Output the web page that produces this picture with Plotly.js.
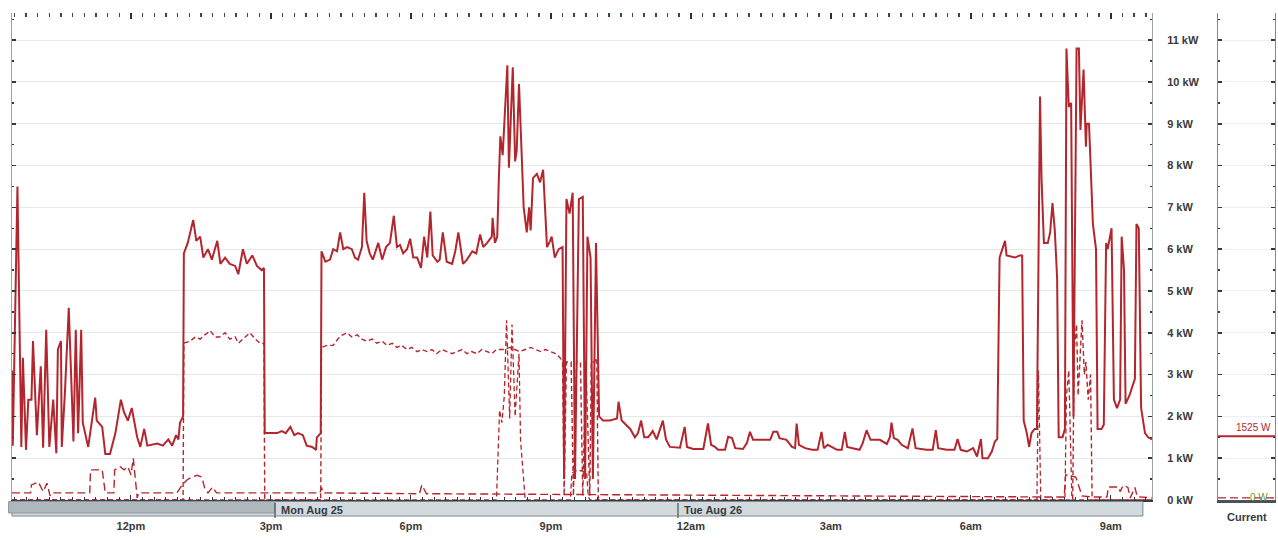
<!DOCTYPE html>
<html>
<head>
<meta charset="utf-8">
<script src="https://cdn.plot.ly/plotly-3.0.1.min.js"></script>
<style>html,body{margin:0;padding:0;background:#fff;}#chart{width:1278px;height:538px;}</style>
</head>
<body>
<div id="chart"></div>
<script>
// Time = minutes after 09:00 on Mon Aug 25; power in kW.
const tickMinutes = [180, 360, 540, 720, 900, 1080, 1260, 1440];
const tickLabels = ['12pm', '3pm', '6pm', '9pm', '12am', '3am', '6am', '9am'];
const dayLabels = ['Mon Aug 25', 'Tue Aug 26'];

// Whole-house total (solid line): [minute, kW]
const totalReadings = [
  [27,3.1],[28,1.3],[34,7.5],[39,1.27],[41,3.4],[45,1.2],[48,2.4],[52,2.4],[54,3.8],[59,1.55],
  [64,3.2],[67,1.25],[71,4.07],[75,1.27],[80,2.4],[84,1.12],[86,3.6],[90,3.8],[91,1.27],[95,2.55],
  [100,4.6],[106,1.4],[109,4.07],[112,1.6],[116,4.07],[118,1.85],[125,1.27],[134,2.45],[136,1.9],
  [143,1.75],[147,1.1],[153,1.1],[160,1.6],[167,2.4],[171,2.1],[176,1.9],[181,2.2],[188,1.5],
  [192,1.27],[197,1.7],[201,1.3],[214,1.35],[221,1.3],[228,1.45],[233,1.3],[238,1.55],[241,1.45],
  [243,1.85],[247,2.0],
  [248,5.9],[253,6.15],[260,6.7],[264,6.2],[269,6.3],[273,5.8],[279,6.0],[284,5.75],[291,6.2],
  [295,5.65],[301,5.8],[307,5.65],[314,5.6],[318,5.4],[324,6.0],[329,5.65],[336,5.85],[342,5.6],
  [348,5.5],[351,5.55],
  [352,1.6],[359,1.6],[368,1.6],[374,1.65],[379,1.6],[385,1.75],[390,1.55],[395,1.6],[401,1.55],
  [406,1.3],[413,1.27],[418,1.2],[419,1.5],[424,1.6],
  [425,5.95],[430,5.7],[436,5.75],[440,6.0],[445,5.95],[449,6.4],[453,6.0],[458,6.05],[464,6.0],
  [468,5.8],[472,5.75],[477,6.05],[480,7.35],[483,6.2],[487,5.9],[491,5.75],[498,6.15],[503,5.75],
  [508,6.05],[513,6.15],[518,6.8],[522,6.05],[526,6.1],[530,5.9],[535,6.0],[539,6.25],[543,5.8],
  [548,5.8],[553,5.55],[557,6.3],[561,5.8],[565,6.9],[568,5.85],[574,5.7],[577,5.75],[581,6.4],
  [586,5.7],[593,5.65],[597,5.95],[601,6.4],[607,5.65],[612,5.75],[619,5.95],[624,5.9],[629,6.35],
  [633,6.05],[638,6.15],[644,6.3],[645,6.75],[648,6.15],[651,6.3],[653,7.65],[655,8.7],[658,8.25],
  [664,10.4],[666,7.95],[671,10.35],[674,8.1],[676,8.35],[679,9.95],[683,7.7],[685,7.0],[689,6.4],
  [692,7.0],[694,6.45],[697,7.7],[702,7.8],[706,7.6],[710,7.9],[715,6.05],[719,6.2],[721,6.3],
  [725,5.8],[730,6.0],[735,6.05],[737,0.5],[740,7.2],[744,6.85],[748,7.35],[751,0.5],[756,7.2],
  [761,7.25],[764,0.5],[767,6.3],[771,5.8],[774,0.5],[778,6.15],[782,2.0],
  [787,1.9],[796,1.9],[805,1.95],[807,2.35],[811,1.9],[822,1.7],[828,1.5],[832,1.6],[836,1.9],
  [840,1.5],[845,1.5],[851,1.65],[856,1.45],[864,1.9],[868,1.45],[873,1.27],[886,1.25],[892,1.75],
  [895,1.27],[903,1.22],[916,1.22],[922,1.83],[926,1.32],[931,1.27],[935,1.2],[944,1.2],[948,1.51],
  [953,1.48],[957,1.24],[967,1.22],[972,1.36],[976,1.63],[980,1.44],[1002,1.44],[1006,1.63],
  [1011,1.63],[1014,1.48],[1023,1.44],[1030,1.27],[1034,1.24],[1036,1.83],[1039,1.32],[1047,1.24],
  [1056,1.2],[1063,1.2],[1068,1.63],[1071,1.24],[1076,1.32],[1088,1.2],[1094,1.2],[1098,1.63],
  [1101,1.27],[1108,1.24],[1117,1.2],[1121,1.36],[1126,1.67],[1131,1.44],[1143,1.44],[1152,1.34],
  [1156,1.51],[1158,1.85],[1161,1.48],[1166,1.44],[1171,1.32],[1179,1.24],[1185,1.71],[1189,1.24],
  [1203,1.2],[1211,1.2],[1215,1.67],[1218,1.24],[1229,1.2],[1239,1.2],[1243,1.46],[1247,1.2],
  [1255,1.16],[1263,1.24],[1268,1.04],[1273,1.46],[1275,1.0],[1282,1.0],[1287,1.16],[1291,1.4],
  [1294,1.46],
  [1297,5.8],[1301,6.0],[1304,6.2],[1306,5.85],[1317,5.8],[1323,5.85],[1326,5.85],[1328,1.9],
  [1332,1.6],[1335,1.27],[1338,1.6],[1342,1.7],[1345,1.7],[1349,9.65],[1351,7.65],[1354,6.15],
  [1359,6.15],[1362,6.4],[1365,7.1],[1368,6.45],[1371,5.3],[1373,1.5],[1378,1.5],[1381,1.7],
  [1383,10.8],[1386,9.4],[1389,9.5],[1392,2.0],[1396,10.8],[1399,10.8],[1401,8.85],[1404,9.95],
  [1405,10.3],[1408,8.45],[1409,9.0],[1412,9.0],[1414,8.05],[1417,6.6],[1421,6.0],[1423,1.7],
  [1428,1.7],[1431,1.8],[1434,6.15],[1436,6.0],[1439,6.3],[1441,6.5],[1444,2.4],[1448,2.2],
  [1452,2.4],[1454,6.3],[1457,5.5],[1459,2.3],[1464,2.5],[1468,2.7],[1471,2.9],[1473,6.6],
  [1476,6.5],[1479,2.2],[1484,1.6],[1488,1.5],[1493,1.45]
];

// Large circuit (short dashes, ~4 kW plateaus)
const circuitAReadings = [
  [27,0],[247,0],[248,3.75],[256,3.8],[263,3.9],[269,3.85],[275,3.95],[282,4.05],[288,3.9],[294,3.9],
  [301,4.0],[307,3.85],[314,3.9],[318,3.75],[324,3.85],[333,4.0],[340,3.85],[346,3.75],[351,3.75],
  [352,0],[424,0],[425,3.65],[432,3.7],[440,3.7],[446,3.85],[452,3.95],[458,4.0],[464,3.9],[471,3.95],
  [477,3.85],[483,3.8],[490,3.85],[496,3.75],[503,3.8],[509,3.7],[516,3.75],[522,3.65],[528,3.7],
  [535,3.6],[541,3.65],[548,3.55],[554,3.6],[561,3.55],[567,3.6],[573,3.5],[580,3.6],[586,3.55],
  [593,3.5],[599,3.55],[606,3.6],[612,3.5],[618,3.55],[625,3.5],[631,3.6],[638,3.55],[644,3.5],
  [650,3.6],[660,3.6],[667,3.65],[673,3.6],[680,3.55],[687,3.6],[694,3.65],[700,3.6],[707,3.55],
  [713,3.6],[719,3.55],[726,3.5],[732,3.4],[735,3.3],[737,0.1],[740,3.3],[746,3.3],[749,0.1],
  [753,3.3],[758,3.3],[761,0.1],[765,3.3],[770,0.1],[772,3.3],[776,3.3],[779,3.4],[781,0],
  [1391,0],[1393,3.6],[1396,4.2],[1398,2.5],[1401,3.8],[1403,4.3],[1406,3.0],[1408,3.3],[1411,2.4],
  [1414,3.0],[1416,0],[1493,0]
];

// Intermittent circuit (medium dashes, short spikes)
const circuitBReadings = [
  [27,0],[650,0],[654,2.15],[657,1.85],[660,2.47],[663,4.3],[667,1.95],[670,4.2],[674,2.0],[679,3.5],
  [681,1.43],[684,0.64],[687,0],[745,0],[747,0.65],[752,0.7],[760,0.7],[766,0.65],[768,0.1],[770,0],
  [1345,0],[1347,3.1],[1350,0],[1381,0],[1383,2.5],[1386,3.1],[1389,1.0],[1390,0],[1493,0]
];

// Small base load (long dashes)
const circuitCReadings = [
  [27,0.17],[51,0.17],[52,0.36],[61,0.43],[67,0.2],[72,0.4],[76,0.1],[78,0.17],[127,0.17],[128,0.72],
  [143,0.72],[147,0.17],[158,0.17],[159,0.72],[166,0.8],[171,0.72],[176,0.8],[180,0.6],[183,1.0],
  [188,0.05],[190,0.17],[239,0.17],[246,0.36],[252,0.48],[258,0.55],[265,0.59],[271,0.55],[275,0.27],
  [279,0.17],[285,0.31],[290,0.17],[423,0.17],[425,0.3],[427,0.17],[551,0.15],[554,0.36],[560,0.15],
  [780,0.13],[900,0.12],[1100,0.1],[1380,0.07],[1382,0.6],[1395,0.55],[1403,0.1],[1416,0.07],
  [1435,0.07],[1437,0.31],[1450,0.31],[1452,0.2],[1456,0.35],[1462,0.3],[1465,0.05],[1471,0.3],
  [1474,0.08],[1493,0.05]
];

const currentTotalW = 1525;
const currentBaseW = 0;
const currentBaseDrawnKw = 0.05;

const RED = '#b4262e';
const xs = a => a.map(p => p[0]);
const ys = a => a.map(p => p[1]);

const traces = [
  {x: xs(circuitCReadings), y: ys(circuitCReadings), mode: 'lines', line: {color: RED, width: 1.4, dash: '8px,4px'}, xaxis: 'x', yaxis: 'y', hoverinfo: 'skip'},
  {x: xs(circuitBReadings), y: ys(circuitBReadings), mode: 'lines', line: {color: RED, width: 1.3, dash: '5px,3px'}, xaxis: 'x', yaxis: 'y', hoverinfo: 'skip'},
  {x: xs(circuitAReadings), y: ys(circuitAReadings), mode: 'lines', line: {color: RED, width: 1.4, dash: '5px,3px'}, xaxis: 'x', yaxis: 'y', hoverinfo: 'skip'},
  {x: xs(totalReadings), y: ys(totalReadings), mode: 'lines', line: {color: RED, width: 2}, xaxis: 'x', yaxis: 'y', hoverinfo: 'skip'},
  {x: [0, 1], y: [currentTotalW / 1000, currentTotalW / 1000], mode: 'lines', line: {color: RED, width: 2}, xaxis: 'x2', yaxis: 'y3', hoverinfo: 'skip'},
  {x: [0, 1], y: [currentBaseDrawnKw, currentBaseDrawnKw], mode: 'lines', line: {color: RED, width: 1.4, dash: '8px,4px'}, xaxis: 'x2', yaxis: 'y3', hoverinfo: 'skip'},
  // carrier for the top tick row (no visible marks)
  {x: [27, 1493], y: [0, 0], mode: 'lines', line: {color: 'rgba(0,0,0,0)', width: 0}, xaxis: 'x3', yaxis: 'y', hoverinfo: 'skip'}
];

const YMAX = 11.65;
const FONT = 'Arial, "Liberation Sans", sans-serif';
const TXT = '#3a3a3a';
const W = 1278 - 12 - 3;
const mainDom = [0, 1140 / W];
const curDom = [1206 / W, 1264 / W];

const layout = {
  width: 1278, height: 538,
  margin: {l: 12, r: 3, t: 13, b: 38},
  paper_bgcolor: '#ffffff', plot_bgcolor: '#ffffff',
  showlegend: false,
  font: {family: FONT, color: TXT, size: 11},
  xaxis: {
    domain: mainDom, range: [27, 1493], anchor: 'y',
    tickmode: 'array', tickvals: tickMinutes, ticktext: tickLabels,
    tickfont: {family: FONT, size: 11, color: TXT, weight: 'bold'},
    ticks: 'inside', ticklen: 5, tickcolor: '#2d3a46', tickwidth: 1,
    minor: {tickmode: 'linear', tick0: 0, dtick: 15, ticks: 'inside', ticklen: 3, tickcolor: '#2d3a46', showgrid: false},
    ticklabelstandoff: 15,
    showline: true, linecolor: '#333b40', linewidth: 2,
    showgrid: false, zeroline: false, fixedrange: true
  },
  xaxis3: {
    overlaying: 'x', side: 'top', anchor: 'y', range: [27, 1493],
    tickmode: 'array', tickvals: tickMinutes, showticklabels: false,
    ticks: 'inside', ticklen: 6, tickcolor: '#243240', tickwidth: 2,
    minor: {tickmode: 'linear', tick0: 0, dtick: 15, ticks: 'inside', ticklen: 4, tickcolor: '#34495a', tickwidth: 1.5, showgrid: false},
    showline: false, showgrid: false, zeroline: false, fixedrange: true
  },
  yaxis: {
    domain: [0, 1], anchor: 'x', side: 'right', range: [0, YMAX],
    tick0: 0, dtick: 1, ticksuffix: ' kW',
    tickfont: {family: FONT, size: 11, color: TXT, weight: 'bold'},
    ticks: 'inside', ticklen: 4, tickcolor: '#2d3a46', tickwidth: 1.5,
    minor: {dtick: 0.5, ticks: 'inside', ticklen: 2, tickcolor: '#2d3a46', showgrid: false},
    ticklabelstandoff: 12,
    showline: true, linecolor: '#9aa4ac', linewidth: 1, mirror: 'ticks',
    showgrid: true, gridcolor: '#e6e8ea', gridwidth: 1, zeroline: false, fixedrange: true
  },
  xaxis2: {
    domain: curDom, range: [0, 1], anchor: 'y3',
    showticklabels: false, ticks: '', showgrid: false, zeroline: false,
    showline: true, linecolor: '#4a5258', linewidth: 2.5, fixedrange: true
  },
  yaxis3: {
    domain: [0, 1], anchor: 'x2', side: 'left', range: [0, YMAX],
    tick0: 0, dtick: 1, showticklabels: false,
    ticks: 'inside', ticklen: 4, tickcolor: '#2d3a46', tickwidth: 1.5,
    minor: {dtick: 0.5, ticks: 'inside', ticklen: 2, tickcolor: '#2d3a46', showgrid: false},
    showline: true, linecolor: '#7d8a94', linewidth: 1, mirror: 'ticks',
    showgrid: true, gridcolor: '#eceef0', zeroline: false, fixedrange: true
  },
  shapes: [
    {type: 'rect', xref: 'x domain', yref: 'y domain', x0: 0, x1: 0.992, y0: -0.0329, y1: -0.003,
     fillcolor: '#d3dade', line: {color: '#7e888e', width: 1}, layer: 'above'},
    {type: 'rect', xref: 'x domain', yref: 'y domain', x0: -0.003, x1: 0.2307, y0: -0.0267, y1: -0.003,
     fillcolor: '#aeb7bc', line: {color: '#8d979c', width: 1}, layer: 'above'},
    {type: 'line', xref: 'x domain', yref: 'y domain', x0: 0.2307, x1: 0.2307, y0: -0.037, y1: -0.006,
     line: {color: '#4a5258', width: 1.2}, layer: 'above'},
    {type: 'line', xref: 'x domain', yref: 'y domain', x0: 0.5842, x1: 0.5842, y0: -0.037, y1: -0.006,
     line: {color: '#4a5258', width: 1.2}, layer: 'above'}
  ],
  annotations: [
    {text: dayLabels[0], xref: 'x domain', yref: 'y domain', x: 0.234, y: -0.0215, xanchor: 'left', yanchor: 'middle',
     showarrow: false, font: {family: FONT, size: 11, color: '#34393d', weight: 'bold'}},
    {text: dayLabels[1], xref: 'x domain', yref: 'y domain', x: 0.5875, y: -0.0215, xanchor: 'left', yanchor: 'middle',
     showarrow: false, font: {family: FONT, size: 11, color: '#34393d', weight: 'bold'}},
    {text: currentTotalW + ' W', xref: 'x2 domain', yref: 'y3', x: 0.62, y: currentTotalW / 1000, xanchor: 'center', yanchor: 'bottom',
     yshift: 1, showarrow: false, font: {family: FONT, size: 10, color: RED}},
    {text: currentBaseW + ' W', xref: 'x2 domain', yref: 'y3', x: 0.72, y: currentBaseDrawnKw, xanchor: 'center', yanchor: 'middle',
     showarrow: false, font: {family: FONT, size: 10, color: '#6f9436'}},
    {text: 'Current', xref: 'x2 domain', yref: 'paper', x: 0.5, y: -0.018, xanchor: 'center', yanchor: 'top',
     showarrow: false, font: {family: FONT, size: 11, color: TXT, weight: 'bold'}}
  ]
};

Plotly.newPlot('chart', traces, layout, {staticPlot: true, displayModeBar: false});
</script>
</body>
</html>
